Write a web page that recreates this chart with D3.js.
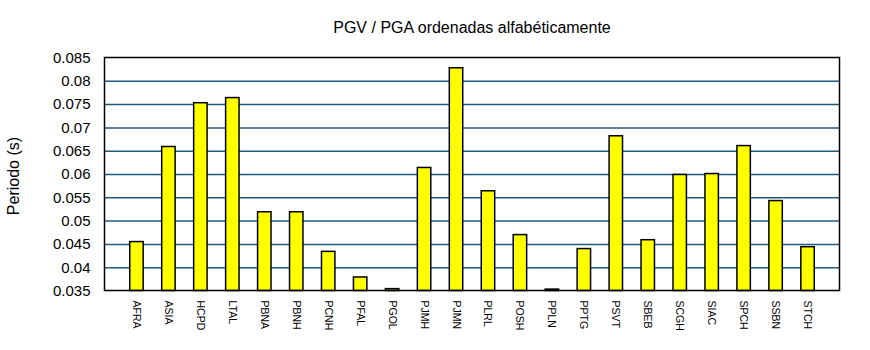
<!DOCTYPE html>
<html>
<head>
<meta charset="utf-8">
<script src="https://cdn.jsdelivr.net/npm/d3@7"></script>
<style>
  html, body { margin: 0; padding: 0; background: #fff; }
  svg { display: block; font-family: "Liberation Sans", Arial, sans-serif; }
</style>
</head>
<body>
<svg id="chart" width="870" height="350"></svg>
<script>
// Stations, in alphabetical order
const stations = ["AFRA", "ASIA", "HCPD", "LTAL", "PBNA", "PBNH", "PCNH", "PFAL", "PGOL", "PJMH", "PJMN",
                  "PLRL", "POSH", "PPLN", "PPTG", "PSVT", "SBEB", "SCGH", "SIAC", "SPCH", "SSBN", "STCH"];
// PGV / PGA period for each station (s)
const periods = [0.0455, 0.0659, 0.0753, 0.0764, 0.0519, 0.0519, 0.0434, 0.0379, 0.0354, 0.0614, 0.0828,
                 0.0564, 0.0470, 0.0353, 0.0440, 0.0682, 0.0459, 0.0599, 0.0601, 0.0661, 0.0543, 0.0444];
// Y axis ticks
const yTicks = [0.035, 0.04, 0.045, 0.05, 0.055, 0.06, 0.065, 0.07, 0.075, 0.08, 0.085];
const yTickLabels = ["0.035", "0.04", "0.045", "0.05", "0.055", "0.06", "0.065", "0.07", "0.075", "0.08", "0.085"];

const title = "PGV / PGA ordenadas alfabéticamente";
const yTitle = "Periodo (s)";

const svg = d3.select("#chart");
const plot = { left: 104.5, right: 839.5, top: 57.5, bottom: 290.5 };

// Stations sit at positions 1..n with half a slot of padding on each side
const x = d3.scaleLinear().domain([0, stations.length + 1]).range([plot.left, plot.right]);
const y = d3.scaleLinear().domain([0.035, 0.085]).range([plot.bottom, plot.top]);
const barW = (x(1) - x(0)) * 0.42;

// Horizontal grid lines
const grid = d3.axisLeft(y)
  .tickValues(yTicks.slice(1, -1))
  .tickSize(-(plot.right - plot.left))
  .tickFormat("");
svg.append("g")
  .attr("transform", `translate(${plot.left},0)`)
  .call(grid)
  .call(g => g.select(".domain").remove())
  .call(g => g.selectAll("line").attr("stroke", "#1f5a7e").attr("stroke-width", 1.5));

// Y tick labels
const yAxis = d3.axisLeft(y)
  .tickValues(yTicks)
  .tickSize(0)
  .tickPadding(14)
  .tickFormat((d, i) => yTickLabels[i]);
svg.append("g")
  .attr("transform", `translate(${plot.left},0)`)
  .call(yAxis)
  .call(g => g.select(".domain").remove())
  .call(g => g.selectAll("text")
    .attr("font-family", "Liberation Sans, Arial, sans-serif")
    .attr("font-size", 15)
    .attr("fill", "#000"));

// Bars
svg.append("g")
  .selectAll("rect")
  .data(periods)
  .join("rect")
  .attr("x", (d, i) => x(i + 1) - barW / 2)
  .attr("width", barW)
  .attr("y", d => y(d))
  .attr("height", d => y(0.035) - y(d))
  .attr("fill", "#ffff00")
  .attr("stroke", "#000")
  .attr("stroke-width", 1.5);

// Plot frame
svg.append("rect")
  .attr("x", plot.left)
  .attr("y", plot.top)
  .attr("width", plot.right - plot.left)
  .attr("height", plot.bottom - plot.top)
  .attr("fill", "none")
  .attr("stroke", "#000")
  .attr("stroke-width", 1.5);

// Station labels, rotated to read downward
const xAxis = d3.axisBottom(x)
  .tickValues(d3.range(1, stations.length + 1))
  .tickSize(0)
  .tickFormat(i => stations[i - 1]);
svg.append("g")
  .attr("transform", `translate(0,${plot.bottom})`)
  .call(xAxis)
  .call(g => g.select(".domain").remove())
  .call(g => g.selectAll("text")
    .attr("font-family", "Liberation Sans, Arial, sans-serif")
    .attr("font-size", 10.5)
    .attr("fill", "#000")
    .attr("text-anchor", "start")
    .attr("dy", null)
    .attr("y", 0)
    .attr("transform", "translate(0,10) rotate(90)")
    .attr("dominant-baseline", "central"));

// Title
svg.append("text")
  .attr("x", (plot.left + plot.right) / 2)
  .attr("y", 33)
  .attr("text-anchor", "middle")
  .attr("font-size", 16)
  .attr("fill", "#000")
  .text(title);

// Y axis title
svg.append("text")
  .attr("transform", `translate(19,${(plot.top + plot.bottom) / 2 + 2}) rotate(-90)`)
  .attr("text-anchor", "middle")
  .attr("font-size", 16)
  .attr("fill", "#000")
  .text(yTitle);
</script>
</body>
</html>
